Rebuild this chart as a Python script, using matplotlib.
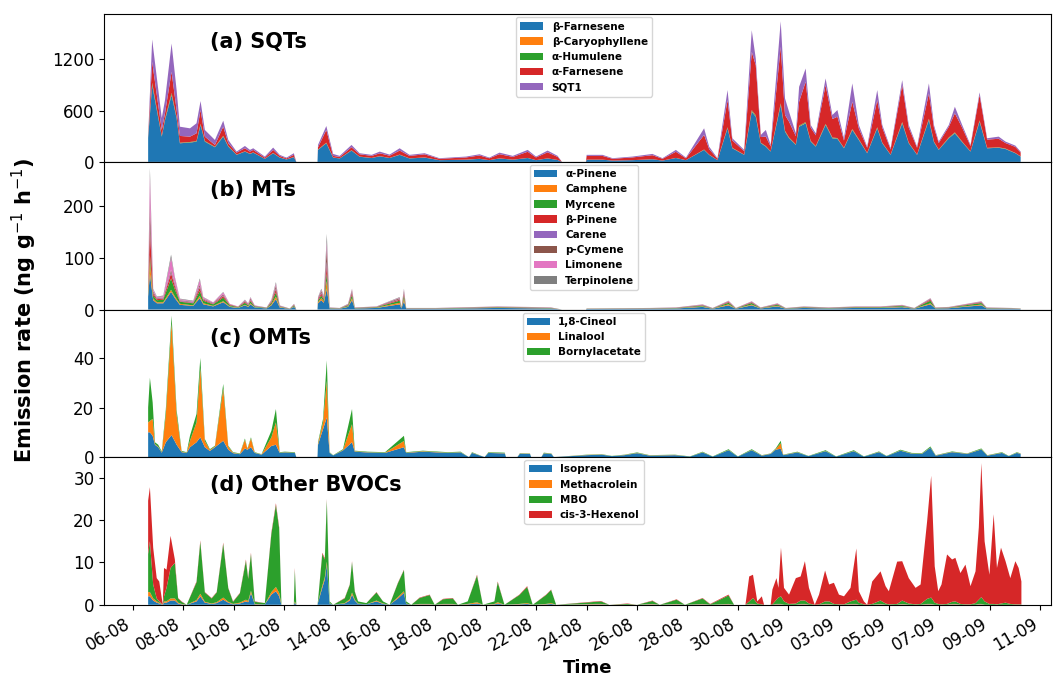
import numpy as np
import pandas as pd
import matplotlib
matplotlib.use('Agg')
import matplotlib.pyplot as plt
import matplotlib.dates as mdates

# time of each sample, in days after 06-08 00:00
start = pd.Timestamp('2022-08-06')

# ---------------- (a) SQTs ----------------
t_a = [0.60, 0.76, 1.14, 1.27, 1.53, 1.73, 1.86, 2.26, 2.52, 2.68,
       2.85, 3.25, 3.58, 3.78, 4.11, 4.44, 4.64, 4.77, 5.23, 5.56,
       5.82, 6.09, 6.38, 6.48, 7.32, 7.34, 7.67, 7.94, 8.20, 8.67,
       8.99, 9.47, 9.79, 10.18, 10.58, 10.97, 11.57, 12.16, 13.22, 13.75,
       14.14, 14.54, 15.07, 15.66, 15.99, 16.45, 16.85, 17.02, 17.97, 18.00,
       18.63, 19.03, 19.82, 20.61, 21.01, 21.54, 21.94, 22.66, 22.86, 23.19,
       23.59, 23.78, 24.25, 24.55, 24.71, 24.91, 25.11, 25.30, 25.70, 25.87,
       26.03, 26.30, 26.43, 26.69, 26.89, 27.09, 27.48, 27.75, 27.95, 28.21,
       28.54, 28.80, 29.13, 29.53, 29.73, 30.06, 30.52, 30.78, 31.11, 31.58,
       31.78, 31.97, 32.37, 32.61, 32.90, 33.23, 33.59, 33.89, 34.35, 34.62,
       35.01, 35.22]
b_farnesene = [280, 897, 295, 489, 781, 509, 218, 225, 237, 431,
               237, 171, 295, 178, 82, 120, 93, 108, 35, 101,
               50, 28, 55, 0, 0, 140, 218, 50, 40, 132,
               60, 45, 65, 45, 82, 40, 50, 20, 25, 35,
               20, 40, 25, 45, 20, 40, 22, 0, 0, 25,
               25, 15, 20, 30, 15, 45, 20, 140, 82, 20,
               392, 159, 82, 586, 528, 218, 178, 120, 664, 353,
               276, 198, 411, 451, 237, 178, 431, 276, 270, 159,
               373, 256, 101, 392, 218, 82, 451, 218, 82, 489,
               230, 140, 276, 334, 230, 120, 470, 159, 165, 150,
               101, 62]
b_caryophyllene = [3, 9, 3, 5, 8, 5, 2, 2, 2, 4,
                   2, 2, 3, 2, 1, 1, 1, 1, 0, 1,
                   1, 0, 1, 0, 0, 1, 2, 1, 0, 1,
                   1, 0, 1, 0, 1, 0, 1, 0, 0, 0,
                   0, 0, 0, 0, 0, 0, 0, 0, 0, 0,
                   0, 0, 0, 0, 0, 0, 0, 1, 1, 0,
                   4, 2, 1, 6, 5, 2, 2, 1, 7, 4,
                   3, 2, 4, 5, 2, 2, 4, 3, 3, 2,
                   4, 3, 1, 4, 2, 1, 5, 2, 1, 5,
                   2, 1, 3, 3, 2, 1, 5, 2, 2, 2,
                   1, 1]
a_humulene = [6, 18, 6, 10, 16, 10, 4, 5, 5, 9,
              5, 3, 6, 4, 2, 2, 2, 2, 1, 2,
              1, 1, 1, 0, 0, 3, 4, 1, 1, 3,
              1, 1, 1, 1, 2, 1, 1, 0, 1, 1,
              0, 1, 1, 1, 0, 1, 0, 0, 0, 1,
              1, 0, 0, 1, 0, 1, 0, 3, 2, 0,
              8, 3, 2, 12, 11, 4, 4, 2, 13, 7,
              6, 4, 8, 9, 5, 4, 9, 6, 5, 3,
              7, 5, 2, 8, 4, 2, 9, 4, 2, 10,
              5, 3, 6, 7, 5, 2, 9, 3, 3, 3,
              2, 1]
a_farnesene = [6, 245, 69, 67, 247, 82, 79, 63, 90, 162,
               51, 22, 107, 34, 23, 36, 24, 29, 14, 36,
               18, 11, 25, 0, 0, 26, 149, 18, 17, 35,
               27, 24, 33, 26, 47, 29, 36, 16, 26, 39,
               22, 49, 32, 72, 32, 71, 36, 0, 0, 44,
               44, 21, 32, 47, 21, 72, 22, 171, 65, 16,
               318, 86, 40, 681, 586, 66, 111, 57, 659, 184,
               185, 96, 280, 471, 156, 126, 453, 215, 250, 86,
               319, 126, 61, 318, 176, 60, 432, 176, 80, 296,
               163, 76, 125, 223, 163, 62, 296, 96, 100, 65,
               71, 46]
sqt1 = [5, 261, 139, 151, 331, 233, 108, 97, 117, 105,
        78, 58, 70, 38, 12, 27, 20, 19, 12, 27,
        12, 10, 19, 0, 0, 28, 46, 23, 12, 27,
        12, 12, 20, 13, 27, 12, 13, 7, 10, 14,
        8, 18, 12, 22, 10, 20, 12, 0, 0, 12,
        12, 7, 10, 15, 7, 22, 8, 77, 28, 7,
        117, 26, 15, 253, 78, 25, 78, 18, 300, 194,
        116, 34, 174, 155, 31, 24, 78, 48, 78, 26,
        214, 41, 13, 117, 31, 14, 58, 31, 13, 117,
        31, 17, 21, 77, 31, 13, 32, 16, 25, 17,
        15, 10]
sqt_labels = ['β-Farnesene', 'β-Caryophyllene', 'α-Humulene', 'α-Farnesene', 'SQT1']

# ---------------- (b) MTs ----------------
t_b = [0.60, 0.67, 0.80, 0.95, 1.20, 1.51, 1.66, 1.86, 2.39, 2.65,
       2.79, 3.18, 3.58, 3.84, 4.17, 4.44, 4.57, 4.66, 4.83, 5.30,
       5.49, 5.67, 5.82, 6.22, 6.39, 6.48, 7.32, 7.34, 7.47, 7.57,
       7.69, 7.80, 8.20, 8.53, 8.69, 8.80, 9.66, 10.58, 10.65, 10.75,
       10.84, 12.00, 13.68, 14.47, 15.65, 16.59, 17.02, 17.97, 18.00, 20.50,
       21.54, 22.60, 23.00, 23.63, 23.92, 24.55, 24.90, 25.57, 25.90, 26.62,
       27.60, 28.67, 29.66, 30.52, 31.00, 31.64, 31.84, 32.37, 33.66, 33.87,
       34.87, 35.22]
a_pinene = [25, 69, 18, 12, 12, 34, 22, 9, 7, 22,
            10, 6, 14, 5, 3, 8, 5, 10, 4, 2,
            8, 20, 4, 1, 5, 0, 0, 12, 18, 13,
            40, 2, 1.5, 5, 18, 2, 3, 10, 2, 16,
            1.5, 1.5, 2.5, 3, 2.5, 2, 0, 0, 1, 1.5,
            2, 5, 1.5, 8, 1.5, 8, 2, 6, 1.5, 3,
            2, 3, 3, 4.5, 1.5, 10, 2, 2.5, 8, 2,
            1.5, 1]
camphene = [4, 23, 3, 2, 2, 4, 3, 2, 1, 4,
            2, 1, 2, 1, .5, 1, 1, 2, .5, .3,
            2, 5, 1, .2, 1, 0, 0, 2, 4, 3,
            15, .4, .3, 1, 4, .4, .5, 3, .4, 5,
            .3, .3, .5, .5, .5, .4, 0, 0, .2, .3,
            .4, 1, .3, 2, .3, 1.5, .4, 1.2, .3, .5,
            .4, .5, .5, .9, .3, 2, .4, .5, 1.5, .4,
            .3, .2]
myrcene = [5, 13, 6, 4, 5, 22, 14, 4, 4, 10,
           5, 3, 7, 2, 1, 4, 2, 4, 1.5, .7,
           3, 8, 1, .3, 2, 0, 0, 3, 5, 3,
           15, .5, .4, 2, 6, .5, 1, 4, .5, 6,
           .4, .4, .7, 1, .7, .5, 0, 0, .3, .4,
           .5, 1.5, .4, 3, .4, 3, .5, 2, .4, 1,
           .5, 1, 1, 1.5, .4, 5, .5, .7, 3, .5,
           .4, .3]
b_pinene = [3, 50, 4, 2, 2, 10, 6, 1, 1, 6,
            2, 1, 3, 1, .5, 2, 1, 2, .5, .3,
            2, 6, .5, .1, 1, 0, 0, 2, 4, 2,
            15, .3, .2, 1, 4, .3, .5, 2, .3, 4,
            .2, .2, .4, .5, .4, .3, 0, 0, .1, .2,
            .3, .8, .2, 1.5, .2, 1.3, .3, 1, .2, .5,
            .3, .5, .5, .7, .2, 2, .3, .4, 1.3, .3,
            .2, .1]
carene = [1, 10, 1, 1, 1, 3, 2, 1, 1, 2,
          1, 1, 1, 0, 0, 1, 1, 1, .5, .2,
          1, 2, .5, .1, .5, 0, 0, 1, 2, 1,
          8, .2, .2, .5, 2, .2, .3, 1, .2, 2,
          .2, .2, .2, .3, .2, .2, 0, 0, .1, .2,
          .2, .5, .2, .8, .2, .7, .2, .6, .2, .3,
          .2, .3, .3, .4, .2, 1, .2, .2, .7, .2,
          .2, .1]
p_cymene = [2, 38, 3, 1, 1, 4, 3, 1, 1, 4,
            1, 1, 2, 1, .5, 1, 1, 2, .5, .2,
            1, 5, .5, .1, .5, 0, 0, 2, 3, 2,
            25, .3, .2, .5, 3, .3, .3, 2, .3, 3,
            .2, .2, .3, .3, .3, .3, 0, 0, .1, .2,
            .3, .5, .2, .7, .2, .7, .3, .5, .2, .3,
            .3, .3, .3, .4, .2, 1, .3, .3, .7, .3,
            .2, .1]
limonene = [2, 55, 4, 2, 3, 23, 11, 2, 1, 9,
            2, 1, 4, 1, .5, 1, 1, 2, .5, .2,
            1, 4, .5, .1, .5, 0, 0, 1, 2, 2,
            13, .2, .1, .5, 2, .2, .3, 1, .2, 2,
            .1, .1, .3, .3, .3, .2, 0, 0, .1, .1,
            .2, .5, .1, .7, .1, .6, .2, .5, .1, .3,
            .2, .3, .3, .4, .1, .7, .2, .3, .6, .2,
            .1, .1]
terpinolene = [1, 15, 1, 1, 1, 6, 2, 1, 1, 3,
               1, 0, 1, 0, 0, 1, 0, 1, 0, .1,
               1, 3, 0, .1, .5, 0, 0, 1, 2, 1,
               15, .1, .1, .5, 1, .1, .1, 1, .1, 2,
               .1, .1, .1, .1, .1, .1, 0, 0, .1, .1,
               .1, .2, .1, .3, .1, .2, .1, .2, .1, .1,
               .1, .1, .1, .2, .1, .3, .1, .1, .2, .1,
               .1, .1]
mt_labels = ['α-Pinene', 'Camphene', 'Myrcene', 'β-Pinene', 'Carene',
             'p-Cymene', 'Limonene', 'Terpinolene']

# ---------------- (c) OMTs ----------------
t_c = [0.60, 0.67, 0.78, 0.87, 1.00, 1.14, 1.30, 1.53, 1.73, 1.93,
       2.13, 2.26, 2.52, 2.67, 2.85, 3.05, 3.25, 3.58, 3.78, 3.97,
       4.24, 4.44, 4.54, 4.68, 4.83, 5.10, 5.49, 5.67, 5.82, 6.02,
       6.42, 6.48, 7.32, 7.34, 7.54, 7.69, 7.80, 7.94, 8.33, 8.69,
       8.80, 9.30, 10.00, 10.75, 10.84, 11.50, 12.50, 13.00, 13.33, 13.45,
       13.95, 14.10, 14.75, 14.80, 15.25, 15.35, 15.75, 15.80, 16.20, 16.30,
       16.60, 16.70, 18.00, 18.60, 19.00, 19.50, 20.00, 20.50, 21.50, 22.10,
       22.60, 23.00, 23.63, 24.00, 24.55, 24.95, 25.30, 25.50, 25.70, 25.80,
       26.36, 26.80, 27.48, 27.90, 28.60, 29.00, 29.60, 29.90, 30.45, 30.90,
       31.30, 31.64, 31.85, 32.50, 33.10, 33.66, 33.90, 34.48, 34.75, 35.07,
       35.22]
cineol = [10, 10, 8.6, 5, 4, 1.8, 6, 8.9, 5, 2,
          1.7, 4, 6, 8, 4, 2.5, 4, 6.6, 3, 1.6,
          1.2, 3.5, 3, 4, 1.7, 1, 4.5, 5, 1.7, 1.9,
          1.7, 0, 0, 5, 11.3, 16, 1.7, 0.7, 2.7, 6,
          2.2, 1.9, 1.7, 4, 1.7, 2.2, 1.7, 1.9, 0, 1.7,
          0, 1.7, 1.5, 0, 0, 1.4, 1.3, 0, 0, 1.5,
          1.3, 0, 0.8, 1, 0.4, 0.8, 1.6, 0.6, 0.8, 0.2,
          1.9, 0.2, 2.8, 0.2, 2.8, 0.6, 1.3, 3, 3.4, 0.8,
          1.9, 0.4, 2.4, 0.2, 2.4, 0.2, 2, 0.4, 2.6, 1.4,
          1.3, 3.8, 0.6, 2, 1.3, 3.1, 0.6, 1.7, 0.4, 1.7,
          1.3]
linalool = [4, 4.6, 6.8, 0.3, 0.2, 0.2, 11, 45, 12, 0.2,
            0.1, 2.6, 8, 28, 2.5, 0.4, 0.3, 21, 1.2, 0.2,
            0.1, 3.5, 0.3, 3.5, 0.1, 0.1, 3.5, 9, 0.1, 0.1,
            0.1, 0, 0, 0.5, 2.7, 14.8, 0.1, 0, 0.2, 7.3,
            0.2, 0.1, 0.1, 2.5, 0.1, 0.2, 0.1, 0.1, 0, 0.1,
            0, 0.1, 0.1, 0, 0, 0.1, 0.1, 0, 0, 0.1,
            0.1, 0, 0.1, 0.1, 0, 0.1, 0.1, 0.1, 0.1, 0,
            0.1, 0, 0.1, 0, 0.1, 0.1, 0.1, 0.2, 2.2, 0.1,
            0.1, 0, 0.1, 0, 0.1, 0, 0.1, 0, 0.1, 0.1,
            0.1, 0.1, 0.1, 0.1, 0.1, 0.1, 0.1, 0.1, 0, 0.1,
            0.1]
bornylacetate = [6, 17.4, 6.6, 0.7, 0.8, 0.3, 2, 3.1, 2, 0.3,
                 0.2, 2, 3.4, 4, 0.8, 0.3, 0.3, 1.9, 0.4, 0.2,
                 0.2, 0.5, 0.2, 0.5, 0.2, 0.1, 2.6, 5.4, 0.2, 0.2,
                 0.2, 0, 0, 0.5, 1.4, 8.2, 0.2, 0.1, 0.3, 6.1,
                 0.2, 0.2, 0.2, 2.1, 0.2, 0.2, 0.2, 0.2, 0, 0.2,
                 0, 0.2, 0.2, 0, 0, 0.1, 0.1, 0, 0, 0.2,
                 0.1, 0, 0.1, 0.1, 0.1, 0.1, 0.2, 0.1, 0.1, 0.1,
                 0.2, 0.1, 0.3, 0.1, 0.3, 0.1, 0.1, 0.3, 1, 0.1,
                 0.2, 0.1, 0.3, 0.1, 0.3, 0.1, 0.2, 0.1, 0.3, 0.2,
                 0.2, 0.4, 0.1, 0.2, 0.1, 0.3, 0.1, 0.2, 0.1, 0.2,
                 0.1]
omt_labels = ['1,8-Cineol', 'Linalool', 'Bornylacetate']

# ---------------- (d) Other BVOCs ----------------
t_d = [0.60, 0.67, 0.80, 0.94, 1.04, 1.18, 1.23, 1.33, 1.49, 1.66,
       1.79, 1.93, 2.13, 2.52, 2.67, 2.85, 3.12, 3.32, 3.58, 3.78,
       3.97, 4.24, 4.48, 4.57, 4.68, 4.83, 5.23, 5.49, 5.67, 5.80,
       5.89, 6.38, 6.42, 6.48, 7.32, 7.34, 7.51, 7.61, 7.69, 7.80,
       7.94, 8.40, 8.60, 8.69, 8.80, 8.93, 9.26, 9.66, 9.92, 10.18,
       10.51, 10.75, 10.84, 11.04, 11.37, 11.77, 11.97, 12.30, 12.69, 12.89,
       13.28, 13.65, 13.88, 14.34, 14.47, 14.74, 15.33, 15.64, 15.86, 16.39,
       16.59, 16.79, 18.37, 18.57, 18.90, 19.62, 20.00, 20.61, 20.90, 21.57,
       21.90, 22.60, 22.90, 23.63, 23.85, 24.30, 24.45, 24.60, 24.77, 24.95,
       25.04, 25.30, 25.37, 25.53, 25.61, 25.71, 25.83, 26.03, 26.30, 26.49,
       26.66, 26.82, 27.05, 27.22, 27.46, 27.62, 27.81, 28.01, 28.21, 28.47,
       28.70, 28.80, 29.00, 29.13, 29.33, 29.66, 29.86, 29.99, 30.32, 30.52,
       30.78, 31.05, 31.25, 31.51, 31.67, 31.81, 31.95, 32.08, 32.30, 32.50,
       32.63, 32.83, 33.03, 33.23, 33.43, 33.56, 33.66, 33.79, 33.98, 34.15,
       34.28, 34.44, 34.62, 34.81, 35.01, 35.14, 35.25]
isoprene = [2, 2, 1, .5, .3, 0, .5, .5, 1, 1,
            .3, .1, 0, .8, 2, .5, .2, .4, 1.2, .5,
            .1, .3, .8, .6, 2.8, .1, .1, 2.4, 3.2, 2,
            0, 0, .5, 0, 0, .5, 4, 6, 9.5, .3,
            0, .3, 1, 2.4, 1, .2, .1, .8, .2, 0,
            1.5, 2.8, .2, 0, .1, .1, 0, .1, .1, 0,
            .1, .3, 0, .1, .3, 0, .1, .2, 0, .1,
            .2, 0, .1, .1, 0, 0, 0, .1, 0, .1,
            0, .1, 0, .1, 0, 0, .1, .1, 0, 0,
            0, 0, 0, .1, .1, .1, 0, 0, 0, .1,
            .1, 0, 0, 0, .1, .1, 0, 0, 0, .1,
            .1, 0, 0, 0, 0, .1, 0, 0, 0, .1,
            0, 0, 0, .1, .1, 0, 0, 0, 0, .1,
            .1, 0, 0, 0, 0, .1, .1, 0, 0, 0,
            0, 0, 0, 0, 0, 0, 0]
methacrolein = [1, 1, .5, .3, .2, 0, .3, .3, .5, .5,
                .2, .1, 0, .3, .6, .2, .1, .2, .5, .2,
                .1, .2, .4, .3, .5, .1, 0, .6, 1, .8,
                0, 0, .3, 0, 0, .1, .5, .5, .7, .1,
                0, .1, .3, .5, .2, .1, 0, .2, .1, 0,
                .3, .4, .1, 0, .1, .1, 0, .1, .1, 0,
                .1, .3, 0, .1, .3, 0, .1, .2, 0, .1,
                .2, 0, .1, .1, 0, 0, 0, .1, 0, .1,
                0, .1, 0, .1, 0, 0, .1, .1, 0, 0,
                0, 0, 0, .1, .1, .1, 0, 0, 0, .1,
                .1, 0, 0, 0, .1, .1, 0, 0, 0, .1,
                .1, 0, 0, 0, 0, .1, 0, 0, 0, .1,
                0, 0, 0, .1, .1, 0, 0, 0, 0, .1,
                .1, 0, 0, 0, 0, .1, .1, 0, 0, 0,
                0, 0, 0, 0, 0, 0, 0]
mbo = [9, 12, 3.3, .7, .3, 0, 1.2, 3.2, 7.2, 8.4,
       1, .5, 0, 4.2, 12.3, 2.2, 1.2, 2.3, 12.7, 3.2,
       .5, 2.2, 9.2, 5.2, 8.7, .5, .3, 13.8, 19.4, 15.2,
       0, 0, 7.4, 0, 0, .4, 7.5, 4.2, 14.5, .4,
       0, 1.1, 3.4, 7.2, 1.9, .5, .3, 1.9, .5, 0,
       3.3, 5, .5, 0, 1.4, 2.1, 0, 1.1, 1.3, 0,
       .6, 6.3, 0, .6, 4.7, 0, 2.1, 3.8, 0, 2.1,
       3.1, 0, .5, .6, 0, .2, 0, .7, 0, 1,
       0, 1.3, .1, 2, 0, 0, .6, 1.4, .3, .1,
       0, 0, .1, 1, 1.5, 1.8, .8, .2, .3, .8,
       .8, .3, 0, .1, .6, .6, .2, .1, .1, .6,
       1, .5, .1, 0, .2, .8, .3, .1, .2, .8,
       .3, .1, .2, 1.2, 1.5, .5, .2, .1, .2, .5,
       .6, .2, .1, .1, .4, 1, 1.6, .8, .2, .2,
       .1, .3, .5, .2, .1, .1, .1]
hexenol = [12.6, 12.8, 8.7, 4.8, 4.7, 0, 6.7, 4.3, 7.6, .8,
           .1, .1, 0, .2, .3, .1, .1, .1, .3, .1,
           .1, .1, .3, .2, .3, .1, 0, .3, .4, .3,
           0, 0, .5, 0, 0, 0, .3, .3, .3, 0,
           0, .1, .1, .2, .1, 0, 0, .1, 0, 0,
           .1, .1, 0, 0, .1, .1, 0, .1, .1, 0,
           0, .2, 0, 0, .2, 0, .1, .2, 0, .1,
           .1, 0, .1, .1, 0, .1, 0, .1, 0, .1,
           0, .1, .1, .2, 0, 0, 5.9, 5.5, .5, 1.9,
           0, 0, 3.5, 5.1, 2.3, 11.5, 3.2, 2.2, 6, 5.7,
           9.3, 3.7, 0, 2.3, 7.3, 4, 5, 2.3, 1.9, 3.2,
           12.1, 2.7, .7, 0, 5.3, 6.9, 4.1, 3.1, 10, 9.3,
           6, 3.9, 4.6, 18.4, 28.8, 8.6, 3, 4.7, 11.7, 10,
           10.3, 7.3, 9.4, 4.3, 7.5, 17.1, 31.7, 14.2, 6.9, 21.2,
           8.6, 13.2, 9.8, 6.1, 10.2, 8.6, 5.4]
other_labels = ['Isoprene', 'Methacrolein', 'MBO', 'cis-3-Hexenol']


def to_dates(days):
    """Convert day offsets to matplotlib date numbers."""
    idx = start + pd.to_timedelta(days, unit='D')
    return mdates.date2num(idx.to_pydatetime())


panels = [
    (t_a, [b_farnesene, b_caryophyllene, a_humulene, a_farnesene, sqt1], sqt_labels,
     '(a) SQTs', [0, 600, 1200], 1725),
    (t_b, [a_pinene, camphene, myrcene, b_pinene, carene, p_cymene, limonene, terpinolene],
     mt_labels, '(b) MTs', [0, 100, 200], 285),
    (t_c, [cineol, linalool, bornylacetate], omt_labels, '(c) OMTs', [0, 20, 40], 59.5),
    (t_d, [isoprene, methacrolein, mbo, hexenol], other_labels, '(d) Other BVOCs',
     [0, 10, 20, 30], 34.9),
]

fig = plt.figure(figsize=(10.53, 6.78), dpi=100)
axes = fig.subplots(4, 1, sharex=True)
fig.subplots_adjust(left=0.0988, right=0.998, top=0.979, bottom=0.108, hspace=0)

for i, (ax, (t, series, labels, title, yticks, ytop)) in enumerate(zip(axes, panels)):
    ax.stackplot(to_dates(t), np.array(series, dtype=float), labels=labels)
    ax.set_ylim(0, ytop)
    ax.set_yticks(yticks)
    ax.tick_params(axis='both', labelsize=12)
    ax.text(0.112, 0.81, title, transform=ax.transAxes, fontsize=15,
            fontweight='bold', ha='left', va='center')
    ax.legend(loc='upper center', bbox_to_anchor=(0.507, 1.0), borderaxespad=0.3,
              prop={'weight': 'bold', 'size': 7.5}, handlelength=2.2)
    if i < 3:
        ax.tick_params(axis='x', bottom=False)

xticks = pd.date_range('2022-08-06', '2022-09-11', freq='2D')
ax = axes[-1]
ax.set_xticks(mdates.date2num(xticks.to_pydatetime()))
ax.xaxis.set_major_formatter(mdates.DateFormatter('%d-%m'))
ax.set_xlim(to_dates([-1.15, 36.42]))
plt.setp(ax.get_xticklabels(), rotation=30, ha='right')

fig.text(0.023, 0.543, 'Emission rate (ng g$^{-1}$ h$^{-1}$)', rotation=90,
         ha='center', va='center', fontsize=15, fontweight='bold')
fig.text(0.558, 0.015, 'Time', ha='center', va='center', fontsize=13,
         fontweight='bold')

fig.savefig('out.png', dpi=100)
